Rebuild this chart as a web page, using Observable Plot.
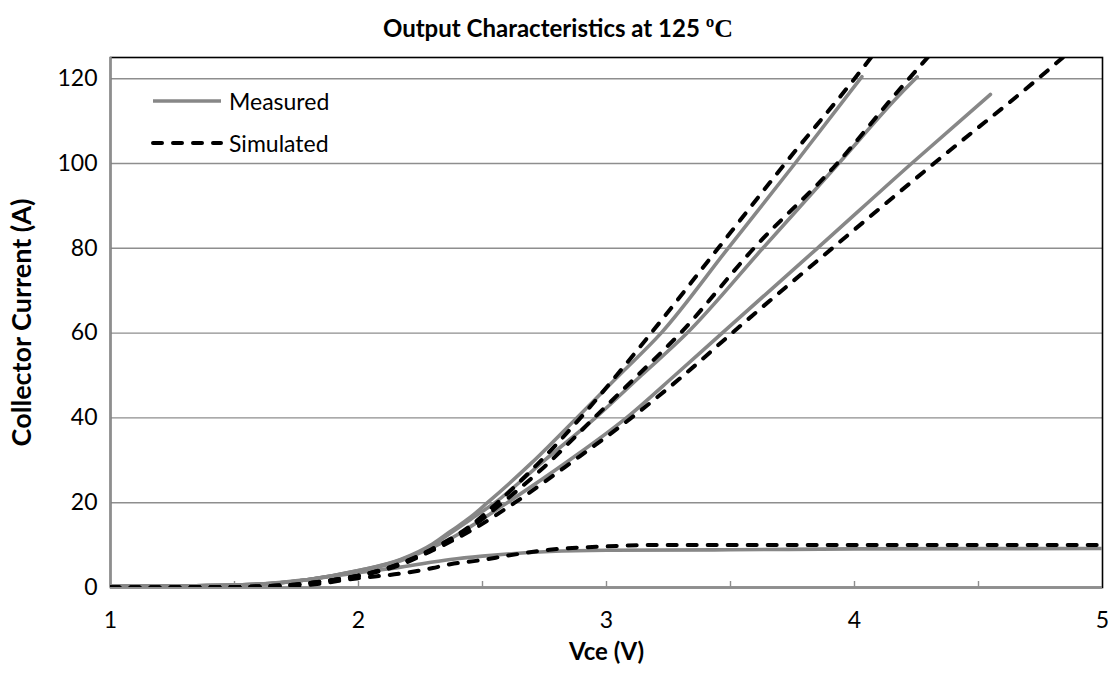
<!DOCTYPE html>
<html>
<head>
<meta charset="utf-8">
<script src="https://cdn.jsdelivr.net/npm/d3@7"></script>
<script src="https://cdn.jsdelivr.net/npm/@observablehq/plot@0.6"></script>
<style>
  html, body { margin: 0; padding: 0; background: #fff; }
  #wrap { position: relative; width: 1116px; height: 674px; font-family: Lato, "Open Sans", sans-serif; }
  #title { position: absolute; left: 0; width: 1116px; top: 13px; text-align: center; font-weight: bold; font-size: 24px; color: #000; }
  #title .deg { font-family: "Liberation Serif", "DejaVu Serif", serif; font-size: 26px; font-weight: bold; }
  #legend { position: absolute; left: 150px; top: 80px; font-size: 23px; color: #000; }
  #legend .row { display: flex; align-items: center; height: 42px; }
  #legend svg { margin-right: 5px; }
  #chart { position: absolute; left: 0; top: 0; }
</style>
</head>
<body>
<div id="wrap">
  <div id="chart"></div>
  <div id="title">Output Characteristics at 125 <span class="deg">ºC</span></div>
  <div id="legend"></div>
</div>
<script>
// ---- data (Vce in V, Collector current in A) ----
const measuredA = [[1.0,0.3],[1.3,0.4],[1.6,0.8],[1.8,1.9],[2.0,4.0],[2.17,6.6],[2.3,10.3],[2.37,13.2],[2.45,16.5],[2.52,20],[2.7,29.5],[2.88,40],[3.05,50],[3.22,60],[3.49,80],[3.76,100],[4.03,120.5]];
const simulatedA = [[1.0,0],[1.4,0.05],[1.7,0.5],[1.9,1.8],[2.0,2.8],[2.17,5.7],[2.3,9.2],[2.45,14.5],[2.56,20],[2.72,29],[2.895,40],[3.04,50],[3.18,60],[3.45,80],[3.72,100],[4.0,120],[4.08,126]];
const measuredB = [[1.0,0.3],[1.3,0.4],[1.6,0.8],[1.8,1.9],[2.0,4.0],[2.17,6.5],[2.3,10],[2.37,12.8],[2.45,16],[2.55,20],[2.75,30],[2.955,40],[3.14,50],[3.325,60],[3.63,80],[3.936,100],[4.185,116.4],[4.253,120.4]];
const simulatedB = [[1.0,0],[1.4,0.05],[1.7,0.5],[1.9,1.8],[2.0,2.8],[2.17,5.6],[2.3,9.0],[2.45,14],[2.57,19.5],[2.75,28.5],[2.95,40],[3.125,50],[3.298,60],[3.594,80],[3.93,100],[4.16,116],[4.31,126]];
const measuredC = [[1.0,0.3],[1.3,0.4],[1.6,0.8],[1.8,1.9],[2.0,3.9],[2.17,6.3],[2.3,9.5],[2.37,11.5],[2.45,14.3],[2.6,20],[2.85,30],[3.08,40],[3.275,50],[3.466,60],[3.85,80],[4.23,100],[4.548,116.3]];
const simulatedC = [[1.0,0],[1.4,0.05],[1.7,0.5],[1.9,1.8],[2.0,2.7],[2.17,5.4],[2.3,8.8],[2.45,13.3],[2.63,20],[2.87,30],[3.1,40],[3.31,50],[3.506,60],[3.91,80],[4.32,100],[4.74,120],[4.85,125.5]];
const measuredLow = [[1.0,0.3],[1.3,0.4],[1.6,0.8],[1.8,1.9],[2.0,3.5],[2.17,4.8],[2.37,6.6],[2.5,7.4],[2.6,7.9],[2.77,8.5],[3.0,8.8],[3.5,8.9],[4.0,9.1],[5.0,9.2]];
const simulatedLow = [[1.0,0],[1.5,0.1],[1.77,0.5],[2.0,2.2],[2.17,3.3],[2.3,4.6],[2.37,5.5],[2.5,6.5],[2.6,7.5],[2.77,8.9],[3.0,9.7],[3.18,10.0],[4.0,10.0],[5.0,10.0]];

const xTicks = [1, 2, 3, 4, 5];
const xMinorTicks = [1.5, 2, 2.5, 3, 3.5, 4, 4.5];
const yTicks = [0, 20, 40, 60, 80, 100, 120];
const legendLabels = ["Measured", "Simulated"];

// ---- build table ----
const measured = [measuredA, measuredB, measuredC, measuredLow];
const simulated = [simulatedA, simulatedB, simulatedC, simulatedLow];
const rows = [];
measured.forEach((s, k) => s.forEach(([v, i]) => rows.push({v, i, kind: "Measured", curve: "m" + k})));
simulated.forEach((s, k) => s.forEach(([v, i]) => rows.push({v, i, kind: "Simulated", curve: "s" + k})));

const GRAY = "#878787";
const GRID = "#8e8e8e";
const DASH = "9,11";

const chart = Plot.plot({
  width: 1116,
  height: 674,
  marginTop: 57,
  marginLeft: 110,
  marginRight: 14,
  marginBottom: 87,
  style: {fontFamily: "Lato, 'Open Sans', sans-serif", fontSize: "23px", color: "#000", background: "#fff"},
  x: {domain: [1, 5]},
  y: {domain: [0, 125]},
  marks: [
    Plot.gridY(yTicks, {stroke: GRID, strokeOpacity: 1, strokeWidth: 1.4}),
    Plot.frame({stroke: "#000", strokeWidth: 1.6}),
    Plot.ruleX(xMinorTicks, {stroke: GRID, strokeWidth: 1.4, insetTop: 524}),
    Plot.ruleY([0], {stroke: GRID, strokeWidth: 2.4}),
    Plot.ruleX([1], {stroke: GRID, strokeWidth: 2.4}),
    Plot.axisX(xTicks, {tickSize: 0, tickPadding: 24, label: null, fontSize: 23, tickFormat: d3.format("d")}),
    Plot.axisY(yTicks, {tickSize: 0, tickPadding: 13, label: null, fontSize: 23, tickFormat: d3.format("d")}),
    Plot.line(rows.filter(d => d.kind === "Measured"), {
      x: "v", y: "i", z: "curve", stroke: GRAY, strokeWidth: 3.6, curve: "monotone-x", clip: true
    }),
    Plot.line(rows.filter(d => d.kind === "Simulated"), {
      x: "v", y: "i", z: "curve", stroke: "#000", strokeWidth: 4, strokeDasharray: DASH,
      strokeLinecap: "round", curve: "monotone-x", clip: true
    }),
    Plot.text(["Vce (V)"], {frameAnchor: "bottom", dy: 72, fontWeight: "bold", fontSize: 24}),
    Plot.text(["Collector Current (A)"], {frameAnchor: "left", textAnchor: "middle", dx: -88, rotate: -90, fontWeight: "bold", fontSize: 27})
  ]
});
document.getElementById("chart").appendChild(chart);

// ---- legend ----
const legend = document.getElementById("legend");
legendLabels.forEach((lab, k) => {
  const row = document.createElement("div");
  row.className = "row";
  const dash = k === 0 ? "" : `stroke-dasharray="${DASH}" stroke-linecap="round"`;
  const col = k === 0 ? GRAY : "#000";
  const w = k === 0 ? 3.6 : 4;
  row.innerHTML = `<svg width="74" height="10"><line x1="3" x2="71" y1="5" y2="5" stroke="${col}" stroke-width="${w}" ${dash}/></svg><span>${lab}</span>`;
  legend.appendChild(row);
});
</script>
</body>
</html>
